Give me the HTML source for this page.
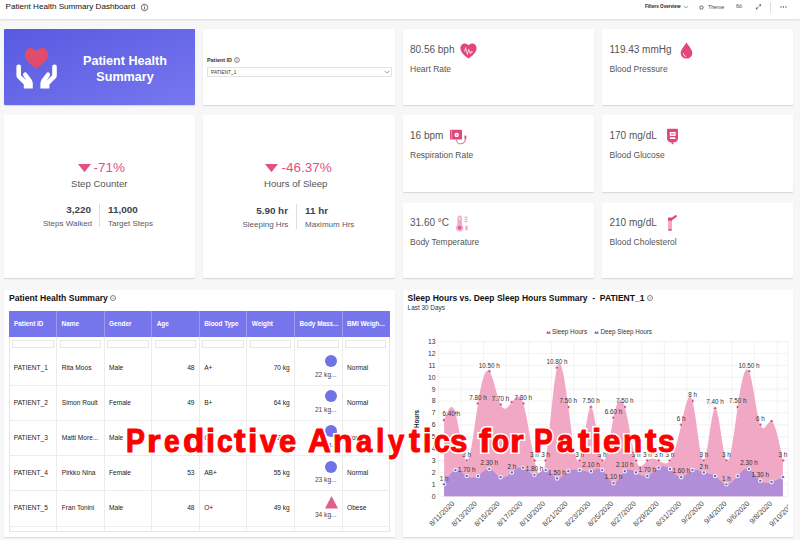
<!DOCTYPE html>
<html><head><meta charset="utf-8">
<style>
*{margin:0;padding:0;box-sizing:border-box}
html,body{width:800px;height:540px;overflow:hidden}
body{background:#f7f7f7;font-family:"Liberation Sans",sans-serif;position:relative;color:#333}
.abs{position:absolute;white-space:nowrap}
.hdr{position:absolute;left:0;top:0;width:800px;height:19px;background:#fff;box-shadow:0 1px 2px rgba(0,0,0,.12)}
.card{position:absolute;background:#fff;border-radius:1px;box-shadow:0 1px 1.2px rgba(0,0,0,.14)}
.val{position:absolute;font-size:10px;color:#555;white-space:nowrap;line-height:1}
.lbl{position:absolute;font-size:8.5px;color:#555;white-space:nowrap;line-height:1}
.t{position:absolute;white-space:nowrap;line-height:1}
svg text{font-family:"Liberation Sans",sans-serif}
.yl{font-size:6.8px;fill:#333}
.dl{font-size:6.3px;fill:#333}
.xl{font-size:7.3px;fill:#444}
.yt{font-size:6.3px;font-weight:bold;fill:#222}
.th{position:absolute;top:311px;height:26px;color:#fff;font-weight:bold;font-size:6.4px;line-height:26px;padding-left:5px;white-space:nowrap}
.td{position:absolute;font-size:6.6px;color:#222;white-space:nowrap;line-height:1}
.ov{position:absolute;top:419.6px;transform-origin:0 32.2px;font-family:"Liberation Sans",sans-serif;font-weight:bold;font-size:38px;color:#fd0000;-webkit-text-stroke:1.2px #fd0000;white-space:nowrap;line-height:1}
.ov.bg{color:#fff;-webkit-text-stroke:4.8px #fff}
</style></head><body>
<!-- header -->
<div class="hdr"></div>
<div class="t" style="left:5.6px;top:3px;font-size:8.1px;color:#111">Patient Health Summary Dashboard</div>
<svg class="abs" style="left:140px;top:3px" width="9" height="9" viewBox="0 0 9 9"><circle cx="4.5" cy="4.5" r="3.2" fill="none" stroke="#444" stroke-width="0.8"/><rect x="4.1" y="3.8" width="0.8" height="2.6" fill="#444"/><rect x="4.1" y="2.5" width="0.8" height="0.8" fill="#444"/></svg>
<div class="t" style="left:645px;top:5.2px;font-size:4.6px;font-weight:bold;color:#222">Filters Overview</div>
<svg class="abs" style="left:683px;top:5px" width="6" height="4" viewBox="0 0 6 4"><path d="M0.8 1 L3 3 L5.2 1" fill="none" stroke="#666" stroke-width="0.6"/></svg>
<svg class="abs" style="left:699px;top:4.5px" width="5" height="5" viewBox="0 0 10 10"><circle cx="5" cy="5" r="3" fill="none" stroke="#555" stroke-width="1.4"/><circle cx="5" cy="5" r="4.3" fill="none" stroke="#555" stroke-width="1.2" stroke-dasharray="1.5 1.9"/></svg>
<div class="t" style="left:708px;top:4.5px;font-size:5.2px;color:#444">Theme</div>
<div class="t" style="left:736px;top:4.3px;font-size:5.4px;color:#444">6ô</div>
<svg class="abs" style="left:755px;top:4px" width="7" height="6" viewBox="0 0 7 6"><path d="M1.2 4.8 L5.8 0.8" stroke="#555" stroke-width="0.6"/><path d="M3.8 0.6 H6 V2.6 Z M0.9 3 V5.2 H3.1 Z" fill="#555"/></svg>
<div class="abs" style="left:770px;top:2px;width:0.7px;height:11px;background:#ddd"></div>
<svg class="abs" style="left:779.5px;top:6px" width="7" height="2" viewBox="0 0 7 2"><circle cx="1" cy="1" r="0.65" fill="#444"/><circle cx="3.5" cy="1" r="0.65" fill="#444"/><circle cx="6" cy="1" r="0.65" fill="#444"/></svg>

<!-- row 1 -->
<div class="card" style="left:4px;top:29px;width:191px;height:76px;background:linear-gradient(to bottom right,#575ae0,#7877f0)"></div>
<svg class="abs" style="left:14px;top:46px" width="45" height="44" viewBox="0 0 45 44">
 <path d="M22.5 22.6 C18.5 19.6 11 15.2 11 8.4 C11 4.6 13.6 2 16.8 2 C19.4 2 21.3 3.4 22.5 5.2 C23.7 3.4 25.6 2 28.2 2 C31.4 2 34 4.6 34 8.4 C34 15.2 26.5 19.6 22.5 22.6 Z" fill="#e24c6c"/>
 <path d="M2.4 20.6 Q2.4 18.6 4.7 18.6 Q7 18.6 7 20.6 L7 29.2 L12.4 34.4 L9.3 29.8 Q8.5 28 9.9 26.8 Q11.5 25.7 12.8 27.2 L17.4 33.2 Q18.8 35.2 18.8 37.6 L18.8 42.4 L9.8 42.4 L9.8 38.6 L3.5 32.2 Q2.4 31 2.4 29.2 Z" fill="#fff"/>
 <g transform="translate(45.2 0) scale(-1 1)"><path d="M2.4 20.6 Q2.4 18.6 4.7 18.6 Q7 18.6 7 20.6 L7 29.2 L12.4 34.4 L9.3 29.8 Q8.5 28 9.9 26.8 Q11.5 25.7 12.8 27.2 L17.4 33.2 Q18.8 35.2 18.8 37.6 L18.8 42.4 L9.8 42.4 L9.8 38.6 L3.5 32.2 Q2.4 31 2.4 29.2 Z" fill="#fff"/></g>
</svg>
<div class="t" style="left:80px;top:52.6px;width:90px;text-align:center;font-size:12.6px;font-weight:bold;color:#fff;line-height:16.1px;white-space:normal">Patient Health<br>Summary</div>

<div class="card" style="left:203px;top:29px;width:192px;height:76px"></div>
<div class="t" style="left:207px;top:58.1px;font-size:5.4px;font-weight:bold;color:#333">Patient ID</div>
<svg class="abs" style="left:233.5px;top:56.7px" width="6" height="6" viewBox="0 0 6 6"><circle cx="3" cy="3" r="2.4" fill="none" stroke="#444" stroke-width="0.6"/><rect x="2.7" y="2.5" width="0.6" height="1.9" fill="#444"/><rect x="2.7" y="1.5" width="0.6" height="0.6" fill="#444"/></svg>
<div class="abs" style="left:206.5px;top:67.3px;width:185px;height:9.4px;border:0.7px solid #e3e3e3;background:#fff"></div>
<div class="t" style="left:211px;top:70.6px;font-size:4.9px;color:#333">PATIENT_1</div>
<svg class="abs" style="left:383.5px;top:70px" width="6" height="4" viewBox="0 0 6 4"><path d="M0.5 0.7 L3 3.2 L5.5 0.7" fill="none" stroke="#777" stroke-width="0.7"/></svg>

<div class="card" style="left:403px;top:29px;width:191px;height:76px"></div>
<div class="val" style="left:410px;top:45.1px">80.56 bph</div>
<svg class="abs" style="left:460px;top:42.5px" width="17" height="16" viewBox="0 0 17 16"><path d="M8.5 15.6 C6 13.6 0.4 10 0.4 5.2 C0.4 2.4 2.5 0.4 5 0.4 C6.6 0.4 7.8 1.2 8.5 2.3 C9.2 1.2 10.4 0.4 12 0.4 C14.5 0.4 16.6 2.4 16.6 5.2 C16.6 10 11 13.6 8.5 15.6 Z" fill="#e0487b"/><path d="M4.6 8.6 L5.6 4.8 L7.4 11.4 L8.8 6.4 L10.4 10.6 L11.6 8.4 L12.6 9.4" fill="none" stroke="#f6c3d5" stroke-width="1.1" stroke-linejoin="round"/></svg>
<div class="lbl" style="left:410px;top:64.5px">Heart Rate</div>

<div class="card" style="left:602px;top:29px;width:191px;height:76px"></div>
<div class="val" style="left:609.5px;top:45.1px">119.43 mmHg</div>
<svg class="abs" style="left:680px;top:41.5px" width="13" height="17" viewBox="0 0 13 17"><path d="M6.5 0.5 C8.5 3.6 12.3 7.6 12.3 11 C12.3 14.2 9.7 16.6 6.5 16.6 C3.3 16.6 0.7 14.2 0.7 11 C0.7 7.6 4.5 3.6 6.5 0.5 Z" fill="#e0487b"/><path d="M3.3 11.2 C3.3 13 4.5 14.2 6 14.4" fill="none" stroke="#fff" stroke-width="0.9"/></svg>
<div class="lbl" style="left:609.5px;top:64.5px">Blood Pressure</div>

<!-- row 2 -->
<div class="card" style="left:4px;top:115px;width:191px;height:163px"></div>
<svg class="abs" style="left:77.6px;top:163.7px" width="13" height="8.2" viewBox="0 0 13 8.2"><path d="M0 0 H13 L6.5 8.2 Z" fill="#e5507f"/></svg>
<div class="t" style="left:93.5px;top:161px;font-size:13.5px;color:#e5507f">-71%</div>
<div class="t" style="left:71px;top:178.7px;font-size:9.6px;color:#555">Step Counter</div>
<div class="t" style="left:66px;top:205px;font-size:9.9px;font-weight:bold;color:#3d4350;width:25px;text-align:right">3,220</div>
<div class="abs" style="left:99.2px;top:204px;width:0.7px;height:23px;background:#ddd"></div>
<div class="t" style="left:108px;top:205px;font-size:9.9px;font-weight:bold;color:#3d4350">11,000</div>
<div class="t" style="left:43px;top:219.5px;font-size:8px;color:#555d66">Steps Walked</div>
<div class="t" style="left:108px;top:219.5px;font-size:8px;color:#555d66">Target Steps</div>

<div class="card" style="left:203px;top:115px;width:192px;height:163px"></div>
<svg class="abs" style="left:265px;top:163.7px" width="13" height="8.2" viewBox="0 0 13 8.2"><path d="M0 0 H13 L6.5 8.2 Z" fill="#e5507f"/></svg>
<div class="t" style="left:281.5px;top:161px;font-size:13.5px;color:#e5507f">-46.37%</div>
<div class="t" style="left:264px;top:178.7px;font-size:9.6px;color:#555">Hours of Sleep</div>
<div class="t" style="left:250px;top:206px;font-size:9.9px;font-weight:bold;color:#3d4350;width:38px;text-align:right">5.90 hr</div>
<div class="abs" style="left:296px;top:204px;width:0.7px;height:25px;background:#ddd"></div>
<div class="t" style="left:305px;top:206px;font-size:9.9px;font-weight:bold;color:#3d4350">11 hr</div>
<div class="t" style="left:242.5px;top:221.2px;font-size:8px;color:#555d66">Sleeping Hrs</div>
<div class="t" style="left:305px;top:221.2px;font-size:8px;color:#555d66">Maximum Hrs</div>

<div class="card" style="left:403px;top:115px;width:191px;height:77px"></div>
<div class="val" style="left:410px;top:131.1px">16 bpm</div>
<svg class="abs" style="left:450px;top:128.5px" width="18" height="16" viewBox="0 0 18 16"><rect x="0" y="0.8" width="12" height="9.8" rx="0.6" fill="#e0487b"/><rect x="1.3" y="0.8" width="0.6" height="9.8" fill="#f4b8cd"/><circle cx="6.7" cy="5.9" r="2.2" fill="#fff"/><circle cx="6.7" cy="5.9" r="0.6" fill="#e0487b"/><path d="M6.7 10.5 C6.7 14 8.5 14.8 10.6 14.8 C13.6 14.8 15.4 13.2 15.4 9.6" fill="none" stroke="#e0487b" stroke-width="0.9"/><rect x="14.5" y="6.6" width="1.8" height="3.2" fill="#e0487b"/></svg>
<div class="lbl" style="left:410px;top:150.5px">Respiration Rate</div>

<div class="card" style="left:602px;top:115px;width:191px;height:77px"></div>
<div class="val" style="left:609.5px;top:131.1px">170 mg/dL</div>
<svg class="abs" style="left:666px;top:128px" width="13" height="17" viewBox="0 0 13 17"><path d="M1 1.6 Q1 0.7 2 0.7 H11 Q12 0.7 12 1.6 V10 Q12 13.5 8.5 14.5 H4.5 Q1 13.5 1 10 Z" fill="#e0487b"/><rect x="3.8" y="4" width="5.8" height="3.9" rx="0.5" fill="#fff"/><rect x="5" y="5.4" width="3.4" height="1" fill="#e0487b"/><rect x="3.8" y="9.2" width="5.8" height="1.8" rx="0.9" fill="#fff"/><rect x="5.6" y="14.4" width="1.8" height="1.8" fill="#e0487b"/></svg>
<div class="lbl" style="left:609.5px;top:150.5px">Blood Glucose</div>

<div class="card" style="left:403px;top:203px;width:191px;height:75px"></div>
<div class="val" style="left:410px;top:218.1px">31.60 °C</div>
<svg class="abs" style="left:455px;top:213.5px" width="14" height="19" viewBox="0 0 14 19"><rect x="2.4" y="1.4" width="4.5" height="11.5" rx="2.25" fill="#f0aac6"/><circle cx="4.65" cy="13.8" r="3.6" fill="#f0aac6"/><circle cx="4.65" cy="13.8" r="1.7" fill="#d6598c"/><rect x="3.9" y="3" width="1.5" height="3" rx="0.7" fill="#fbe3ec"/><rect x="9.5" y="2.6" width="3" height="1.3" fill="#f0aac6"/><rect x="9.5" y="4.8" width="3" height="1.3" fill="#f0aac6"/><rect x="9.5" y="7" width="3" height="1.3" fill="#f0aac6"/><rect x="10.4" y="11.6" width="2.2" height="5" rx="1.1" fill="#f0aac6"/></svg>
<div class="lbl" style="left:410px;top:237.5px">Body Temperature</div>

<div class="card" style="left:602px;top:203px;width:191px;height:75px"></div>
<div class="val" style="left:609.5px;top:218.1px">210 mg/dL</div>
<svg class="abs" style="left:666px;top:214px" width="13" height="18" viewBox="0 0 13 18"><rect x="2" y="3.6" width="4" height="13.2" rx="1.6" fill="#f2a9c4"/><rect x="2" y="3.6" width="4" height="3" fill="#e0487b"/><path d="M4.5 6 L10.5 1.6" stroke="#e0487b" stroke-width="2.2"/><rect x="2.6" y="15.2" width="2.8" height="1.4" fill="#d2406f"/></svg>
<div class="lbl" style="left:609.5px;top:237.5px">Blood Cholesterol</div>

<!-- table panel -->
<div class="card" style="left:4px;top:290px;width:391px;height:247px"></div>
<div class="t" style="left:9px;top:294.3px;font-size:8.6px;font-weight:bold;color:#111">Patient Health Summary</div>
<svg class="abs" style="left:110px;top:295.2px" width="6" height="6" viewBox="0 0 6 6"><circle cx="3" cy="3" r="2.5" fill="none" stroke="#666" stroke-width="0.8"/><path d="M1.8 3 H4.2" stroke="#888" stroke-width="0.6"/></svg>
<div class="abs" style="left:9px;top:311px;width:380.5px;height:221px;border:0.7px solid #e6e6e6;border-top:none"></div>
<div class="abs" style="left:9px;top:311px;width:380.5px;height:26px;background:#7675eb"></div>
<div class="th" style="left:9.00px">Patient ID</div>
<div class="abs" style="left:12.00px;top:340px;width:41.5px;height:8.4px;border:0.7px solid #e6e6e6"></div>
<div class="th" style="left:56.56px">Name</div>
<div class="abs" style="left:56.21px;top:311px;width:0.7px;height:26px;background:rgba(255,255,255,.28)"></div>
<div class="abs" style="left:56.21px;top:337px;width:0.7px;height:195px;background:#ececec"></div>
<div class="abs" style="left:59.56px;top:340px;width:41.5px;height:8.4px;border:0.7px solid #e6e6e6"></div>
<div class="th" style="left:104.12px">Gender</div>
<div class="abs" style="left:103.78px;top:311px;width:0.7px;height:26px;background:rgba(255,255,255,.28)"></div>
<div class="abs" style="left:103.78px;top:337px;width:0.7px;height:195px;background:#ececec"></div>
<div class="abs" style="left:107.12px;top:340px;width:41.5px;height:8.4px;border:0.7px solid #e6e6e6"></div>
<div class="th" style="left:151.69px">Age</div>
<div class="abs" style="left:151.34px;top:311px;width:0.7px;height:26px;background:rgba(255,255,255,.28)"></div>
<div class="abs" style="left:151.34px;top:337px;width:0.7px;height:195px;background:#ececec"></div>
<div class="abs" style="left:154.69px;top:340px;width:41.5px;height:8.4px;border:0.7px solid #e6e6e6"></div>
<div class="th" style="left:199.25px">Blood Type</div>
<div class="abs" style="left:198.90px;top:311px;width:0.7px;height:26px;background:rgba(255,255,255,.28)"></div>
<div class="abs" style="left:198.90px;top:337px;width:0.7px;height:195px;background:#ececec"></div>
<div class="abs" style="left:202.25px;top:340px;width:41.5px;height:8.4px;border:0.7px solid #e6e6e6"></div>
<div class="th" style="left:246.81px">Weight</div>
<div class="abs" style="left:246.46px;top:311px;width:0.7px;height:26px;background:rgba(255,255,255,.28)"></div>
<div class="abs" style="left:246.46px;top:337px;width:0.7px;height:195px;background:#ececec"></div>
<div class="abs" style="left:249.81px;top:340px;width:41.5px;height:8.4px;border:0.7px solid #e6e6e6"></div>
<div class="th" style="left:294.38px">Body Mass...</div>
<div class="abs" style="left:294.02px;top:311px;width:0.7px;height:26px;background:rgba(255,255,255,.28)"></div>
<div class="abs" style="left:294.02px;top:337px;width:0.7px;height:195px;background:#ececec"></div>
<div class="abs" style="left:297.38px;top:340px;width:41.5px;height:8.4px;border:0.7px solid #e6e6e6"></div>
<div class="th" style="left:341.94px">BMI Weigh...</div>
<div class="abs" style="left:341.59px;top:311px;width:0.7px;height:26px;background:rgba(255,255,255,.28)"></div>
<div class="abs" style="left:341.59px;top:337px;width:0.7px;height:195px;background:#ececec"></div>
<div class="abs" style="left:344.94px;top:340px;width:41.5px;height:8.4px;border:0.7px solid #e6e6e6"></div>
<div class="abs" style="left:9px;top:385.15px;width:380.5px;height:0.7px;background:#ececec"></div>
<div class="td" style="left:13.75px;top:365.00px">PATIENT_1</div>
<div class="td" style="left:61.75px;top:365.00px">Rita Moos</div>
<div class="td" style="left:109px;top:365.00px">Male</div>
<div class="td" style="left:160px;width:34.5px;text-align:right;top:365.00px">48</div>
<div class="td" style="left:204.2px;top:365.00px">A+</div>
<div class="td" style="left:250px;width:39.8px;text-align:right;top:365.00px">70 kg</div>
<div class="abs" style="left:324.70px;top:355.20px;width:12px;height:12px;border-radius:50%;background:#7073e8"></div>
<div class="td" style="left:300px;width:36.6px;text-align:right;top:371.80px;color:#444">22 kg...</div>
<div class="td" style="left:347px;top:365.00px">Normal</div>
<div class="abs" style="left:9px;top:420.25px;width:380.5px;height:0.7px;background:#ececec"></div>
<div class="td" style="left:13.75px;top:400.10px">PATIENT_2</div>
<div class="td" style="left:61.75px;top:400.10px">Simon Roult</div>
<div class="td" style="left:109px;top:400.10px">Female</div>
<div class="td" style="left:160px;width:34.5px;text-align:right;top:400.10px">49</div>
<div class="td" style="left:204.2px;top:400.10px">B+</div>
<div class="td" style="left:250px;width:39.8px;text-align:right;top:400.10px">64 kg</div>
<div class="abs" style="left:324.70px;top:390.30px;width:12px;height:12px;border-radius:50%;background:#7073e8"></div>
<div class="td" style="left:300px;width:36.6px;text-align:right;top:406.90px;color:#444">21 kg...</div>
<div class="td" style="left:347px;top:400.10px">Normal</div>
<div class="abs" style="left:9px;top:455.35px;width:380.5px;height:0.7px;background:#ececec"></div>
<div class="td" style="left:13.75px;top:435.20px">PATIENT_3</div>
<div class="td" style="left:61.75px;top:435.20px">Matti More...</div>
<div class="td" style="left:109px;top:435.20px">Male</div>
<div class="td" style="left:160px;width:34.5px;text-align:right;top:435.20px">50</div>
<div class="td" style="left:204.2px;top:435.20px">O+</div>
<div class="td" style="left:250px;width:39.8px;text-align:right;top:435.20px">72 kg</div>
<div class="abs" style="left:324.70px;top:425.40px;width:12px;height:12px;border-radius:50%;background:#7073e8"></div>
<div class="td" style="left:300px;width:36.6px;text-align:right;top:442.00px;color:#444">24 kg...</div>
<div class="td" style="left:347px;top:435.20px">Normal</div>
<div class="abs" style="left:9px;top:490.45px;width:380.5px;height:0.7px;background:#ececec"></div>
<div class="td" style="left:13.75px;top:470.30px">PATIENT_4</div>
<div class="td" style="left:61.75px;top:470.30px">Pirkko Nina</div>
<div class="td" style="left:109px;top:470.30px">Female</div>
<div class="td" style="left:160px;width:34.5px;text-align:right;top:470.30px">53</div>
<div class="td" style="left:204.2px;top:470.30px">AB+</div>
<div class="td" style="left:250px;width:39.8px;text-align:right;top:470.30px">55 kg</div>
<div class="abs" style="left:324.70px;top:460.50px;width:12px;height:12px;border-radius:50%;background:#7073e8"></div>
<div class="td" style="left:300px;width:36.6px;text-align:right;top:477.10px;color:#444">23 kg...</div>
<div class="td" style="left:347px;top:470.30px">Normal</div>
<div class="abs" style="left:9px;top:525.55px;width:380.5px;height:0.7px;background:#ececec"></div>
<div class="td" style="left:13.75px;top:505.40px">PATIENT_5</div>
<div class="td" style="left:61.75px;top:505.40px">Fran Tonini</div>
<div class="td" style="left:109px;top:505.40px">Male</div>
<div class="td" style="left:160px;width:34.5px;text-align:right;top:505.40px">48</div>
<div class="td" style="left:204.2px;top:505.40px">O+</div>
<div class="td" style="left:250px;width:39.8px;text-align:right;top:505.40px">49 kg</div>
<svg class="abs" style="left:324.5px;top:496.00px" width="13" height="12.6" viewBox="0 0 13 12.6"><path d="M6.5 0 L13 12.6 H0 Z" fill="#e0608d"/></svg>
<div class="td" style="left:300px;width:36.6px;text-align:right;top:512.20px;color:#444">34 kg...</div>
<div class="td" style="left:347px;top:505.40px">Obese</div>

<!-- chart panel -->
<div class="card" style="left:403px;top:290px;width:390px;height:247px"></div>
<div class="t" style="left:407.6px;top:294px;font-size:8.5px;font-weight:bold;color:#111">Sleep Hours vs. Deep Sleep Hours Summary&nbsp; - &nbsp;PATIENT_1</div>
<svg class="abs" style="left:646.5px;top:295.2px" width="6" height="6" viewBox="0 0 6 6"><circle cx="3" cy="3" r="2.5" fill="none" stroke="#666" stroke-width="0.8"/><path d="M1.8 3 H4.2" stroke="#888" stroke-width="0.6"/></svg>
<div class="t" style="left:407.6px;top:305px;font-size:6.4px;color:#333">Last 30 Days</div>
<svg class="abs" style="left:545.5px;top:330px" width="5" height="4" viewBox="0 0 5 4"><path d="M0.3 3.7 L1.5 0.8 L2.5 2.5 L3.5 0.8 L4.7 3.7 Z" fill="#e0487b"/></svg>
<div class="t" style="left:552px;top:329px;font-size:6.4px;color:#333">Sleep Hours</div>
<svg class="abs" style="left:594px;top:330px" width="5" height="4" viewBox="0 0 5 4"><path d="M0.3 3.7 L1.5 0.8 L2.5 2.5 L3.5 0.8 L4.7 3.7 Z" fill="#6a6ee8"/></svg>
<div class="t" style="left:600.5px;top:329px;font-size:6.3px;color:#333">Deep Sleep Hours</div>
<svg class="abs" style="left:0;top:0" width="800" height="540" viewBox="0 0 800 540">
<line x1="438.5" y1="496.25" x2="788.0" y2="496.25" stroke="#eeeeee" stroke-width="0.75"/>
<text x="435.5" y="498.65" text-anchor="end" class="yl">0</text>
<line x1="438.5" y1="484.35" x2="788.0" y2="484.35" stroke="#eeeeee" stroke-width="0.75"/>
<text x="435.5" y="486.75" text-anchor="end" class="yl">1</text>
<line x1="438.5" y1="472.45" x2="788.0" y2="472.45" stroke="#eeeeee" stroke-width="0.75"/>
<text x="435.5" y="474.85" text-anchor="end" class="yl">2</text>
<line x1="438.5" y1="460.55" x2="788.0" y2="460.55" stroke="#eeeeee" stroke-width="0.75"/>
<text x="435.5" y="462.95" text-anchor="end" class="yl">3</text>
<line x1="438.5" y1="448.65" x2="788.0" y2="448.65" stroke="#eeeeee" stroke-width="0.75"/>
<text x="435.5" y="451.05" text-anchor="end" class="yl">4</text>
<line x1="438.5" y1="436.75" x2="788.0" y2="436.75" stroke="#eeeeee" stroke-width="0.75"/>
<text x="435.5" y="439.15" text-anchor="end" class="yl">5</text>
<line x1="438.5" y1="424.85" x2="788.0" y2="424.85" stroke="#eeeeee" stroke-width="0.75"/>
<text x="435.5" y="427.25" text-anchor="end" class="yl">6</text>
<line x1="438.5" y1="412.95" x2="788.0" y2="412.95" stroke="#eeeeee" stroke-width="0.75"/>
<text x="435.5" y="415.35" text-anchor="end" class="yl">7</text>
<line x1="438.5" y1="401.05" x2="788.0" y2="401.05" stroke="#eeeeee" stroke-width="0.75"/>
<text x="435.5" y="403.45" text-anchor="end" class="yl">8</text>
<line x1="438.5" y1="389.15" x2="788.0" y2="389.15" stroke="#eeeeee" stroke-width="0.75"/>
<text x="435.5" y="391.55" text-anchor="end" class="yl">9</text>
<line x1="438.5" y1="377.25" x2="788.0" y2="377.25" stroke="#eeeeee" stroke-width="0.75"/>
<text x="435.5" y="379.65" text-anchor="end" class="yl">10</text>
<line x1="438.5" y1="365.35" x2="788.0" y2="365.35" stroke="#eeeeee" stroke-width="0.75"/>
<text x="435.5" y="367.75" text-anchor="end" class="yl">11</text>
<line x1="438.5" y1="353.45" x2="788.0" y2="353.45" stroke="#eeeeee" stroke-width="0.75"/>
<text x="435.5" y="355.85" text-anchor="end" class="yl">12</text>
<line x1="438.5" y1="341.55" x2="788.0" y2="341.55" stroke="#eeeeee" stroke-width="0.75"/>
<text x="435.5" y="343.95" text-anchor="end" class="yl">13</text>
<line x1="438.50" y1="341.55" x2="438.50" y2="496.25" stroke="#eeeeee" stroke-width="0.75"/>
<line x1="461.08" y1="341.55" x2="461.08" y2="496.25" stroke="#eeeeee" stroke-width="0.75"/>
<line x1="483.66" y1="341.55" x2="483.66" y2="496.25" stroke="#eeeeee" stroke-width="0.75"/>
<line x1="506.24" y1="341.55" x2="506.24" y2="496.25" stroke="#eeeeee" stroke-width="0.75"/>
<line x1="528.82" y1="341.55" x2="528.82" y2="496.25" stroke="#eeeeee" stroke-width="0.75"/>
<line x1="551.40" y1="341.55" x2="551.40" y2="496.25" stroke="#eeeeee" stroke-width="0.75"/>
<line x1="573.98" y1="341.55" x2="573.98" y2="496.25" stroke="#eeeeee" stroke-width="0.75"/>
<line x1="596.56" y1="341.55" x2="596.56" y2="496.25" stroke="#eeeeee" stroke-width="0.75"/>
<line x1="619.14" y1="341.55" x2="619.14" y2="496.25" stroke="#eeeeee" stroke-width="0.75"/>
<line x1="641.72" y1="341.55" x2="641.72" y2="496.25" stroke="#eeeeee" stroke-width="0.75"/>
<line x1="664.30" y1="341.55" x2="664.30" y2="496.25" stroke="#eeeeee" stroke-width="0.75"/>
<line x1="686.88" y1="341.55" x2="686.88" y2="496.25" stroke="#eeeeee" stroke-width="0.75"/>
<line x1="709.46" y1="341.55" x2="709.46" y2="496.25" stroke="#eeeeee" stroke-width="0.75"/>
<line x1="732.04" y1="341.55" x2="732.04" y2="496.25" stroke="#eeeeee" stroke-width="0.75"/>
<line x1="754.62" y1="341.55" x2="754.62" y2="496.25" stroke="#eeeeee" stroke-width="0.75"/>
<line x1="777.20" y1="341.55" x2="777.20" y2="496.25" stroke="#eeeeee" stroke-width="0.75"/>
<line x1="788.00" y1="341.55" x2="788.00" y2="496.25" stroke="#eeeeee" stroke-width="0.75"/>
<path d="M444.14,420.09 C447.91,410.28 451.67,400.47 455.44,412.95 C459.20,425.43 462.96,460.19 466.72,460.55 C470.49,460.91 474.25,426.87 478.01,403.43 C481.78,379.99 485.54,367.14 489.30,371.30 C493.07,375.46 496.83,396.63 500.59,404.62 C504.36,412.61 508.12,407.42 511.88,402.24 C515.65,397.06 519.41,391.90 523.17,403.43 C526.94,414.96 530.70,443.18 534.46,460.55 C538.23,477.92 541.99,484.46 545.75,460.55 C549.52,436.64 553.28,382.30 557.04,367.73 C560.81,353.16 564.57,378.36 568.34,407.00 C572.10,435.64 575.86,467.70 579.62,460.55 C583.39,453.40 587.15,407.03 590.91,407.00 C594.68,406.97 598.44,453.28 602.20,460.55 C605.97,467.82 609.73,436.05 613.50,417.71 C617.26,399.37 621.02,394.48 624.78,407.00 C628.55,419.52 632.31,449.47 636.07,460.55 C639.84,471.63 643.60,463.85 647.37,460.55 C651.13,457.25 654.89,458.42 658.65,460.55 C662.42,462.68 666.18,465.77 669.94,460.55 C673.71,455.33 677.47,441.79 681.23,424.85 C685.00,407.91 688.76,387.58 692.52,401.05 C696.29,414.52 700.05,461.80 703.81,460.55 C707.58,459.30 711.34,409.52 715.11,408.19 C718.87,406.86 722.63,454.00 726.39,460.55 C730.16,467.10 733.92,433.08 737.68,407.00 C741.45,380.92 745.21,362.80 748.97,371.30 C752.74,379.80 756.50,414.92 760.26,424.85 C764.03,434.78 767.79,419.53 771.55,421.28 C775.32,423.03 779.08,441.79 782.85,460.55 L782.85,496.25 L444.14,496.25 Z" fill="#f0a8c5"/>
<path d="M444.14,484.35 C447.91,477.72 451.67,471.09 455.44,470.07 C459.20,469.05 462.96,473.65 466.72,476.02 C470.49,478.39 474.25,478.53 478.01,476.02 C481.78,473.51 485.54,468.34 489.30,468.88 C493.07,469.42 496.83,475.68 500.59,477.21 C504.36,478.74 508.12,475.55 511.88,472.45 C515.65,469.35 519.41,466.34 523.17,467.69 C526.94,469.04 530.70,474.74 534.46,474.83 C538.23,474.92 541.99,469.39 545.75,470.07 C549.52,470.75 553.28,477.65 557.04,478.40 C560.81,479.15 564.57,473.75 568.34,471.26 C572.10,468.77 575.86,469.20 579.62,470.07 C583.39,470.94 587.15,472.26 590.91,471.26 C594.68,470.26 598.44,466.93 602.20,470.07 C605.97,473.21 609.73,482.81 613.50,483.16 C617.26,483.51 621.02,474.61 624.78,471.26 C628.55,467.91 632.31,470.12 636.07,472.45 C639.84,474.78 643.60,477.24 647.37,476.02 C651.13,474.80 654.89,469.91 658.65,467.69 C662.42,465.47 666.18,465.93 669.94,468.88 C673.71,471.83 677.47,477.28 681.23,477.21 C685.00,477.14 688.76,471.55 692.52,470.07 C696.29,468.59 700.05,471.23 703.81,472.45 C707.58,473.67 711.34,473.46 715.11,476.02 C718.87,478.58 722.63,483.90 726.39,484.35 C730.16,484.80 733.92,480.37 737.68,476.02 C741.45,471.67 745.21,467.41 748.97,468.88 C752.74,470.35 756.50,477.56 760.26,480.78 C764.03,484.00 767.79,483.23 771.55,481.97 C775.32,480.71 779.08,478.96 782.85,477.21 L782.85,496.25 L444.14,496.25 Z" fill="#b28dd8"/>
<circle cx="444.14" cy="420.09" r="1.5" fill="#cc4a7a" stroke="#f6d4e1" stroke-width="0.8"/>
<circle cx="455.44" cy="412.95" r="1.5" fill="#cc4a7a" stroke="#f6d4e1" stroke-width="0.8"/>
<circle cx="466.72" cy="460.55" r="1.5" fill="#cc4a7a" stroke="#f6d4e1" stroke-width="0.8"/>
<circle cx="478.01" cy="403.43" r="1.5" fill="#cc4a7a" stroke="#f6d4e1" stroke-width="0.8"/>
<circle cx="489.30" cy="371.30" r="1.5" fill="#cc4a7a" stroke="#f6d4e1" stroke-width="0.8"/>
<circle cx="500.59" cy="404.62" r="1.5" fill="#cc4a7a" stroke="#f6d4e1" stroke-width="0.8"/>
<circle cx="511.88" cy="402.24" r="1.5" fill="#cc4a7a" stroke="#f6d4e1" stroke-width="0.8"/>
<circle cx="523.17" cy="403.43" r="1.5" fill="#cc4a7a" stroke="#f6d4e1" stroke-width="0.8"/>
<circle cx="534.46" cy="460.55" r="1.5" fill="#cc4a7a" stroke="#f6d4e1" stroke-width="0.8"/>
<circle cx="545.75" cy="460.55" r="1.5" fill="#cc4a7a" stroke="#f6d4e1" stroke-width="0.8"/>
<circle cx="557.04" cy="367.73" r="1.5" fill="#cc4a7a" stroke="#f6d4e1" stroke-width="0.8"/>
<circle cx="568.34" cy="407.00" r="1.5" fill="#cc4a7a" stroke="#f6d4e1" stroke-width="0.8"/>
<circle cx="579.62" cy="460.55" r="1.5" fill="#cc4a7a" stroke="#f6d4e1" stroke-width="0.8"/>
<circle cx="590.91" cy="407.00" r="1.5" fill="#cc4a7a" stroke="#f6d4e1" stroke-width="0.8"/>
<circle cx="602.20" cy="460.55" r="1.5" fill="#cc4a7a" stroke="#f6d4e1" stroke-width="0.8"/>
<circle cx="613.50" cy="417.71" r="1.5" fill="#cc4a7a" stroke="#f6d4e1" stroke-width="0.8"/>
<circle cx="624.78" cy="407.00" r="1.5" fill="#cc4a7a" stroke="#f6d4e1" stroke-width="0.8"/>
<circle cx="636.07" cy="460.55" r="1.5" fill="#cc4a7a" stroke="#f6d4e1" stroke-width="0.8"/>
<circle cx="647.37" cy="460.55" r="1.5" fill="#cc4a7a" stroke="#f6d4e1" stroke-width="0.8"/>
<circle cx="658.65" cy="460.55" r="1.5" fill="#cc4a7a" stroke="#f6d4e1" stroke-width="0.8"/>
<circle cx="669.94" cy="460.55" r="1.5" fill="#cc4a7a" stroke="#f6d4e1" stroke-width="0.8"/>
<circle cx="681.23" cy="424.85" r="1.5" fill="#cc4a7a" stroke="#f6d4e1" stroke-width="0.8"/>
<circle cx="692.52" cy="401.05" r="1.5" fill="#cc4a7a" stroke="#f6d4e1" stroke-width="0.8"/>
<circle cx="703.81" cy="460.55" r="1.5" fill="#cc4a7a" stroke="#f6d4e1" stroke-width="0.8"/>
<circle cx="715.11" cy="408.19" r="1.5" fill="#cc4a7a" stroke="#f6d4e1" stroke-width="0.8"/>
<circle cx="726.39" cy="460.55" r="1.5" fill="#cc4a7a" stroke="#f6d4e1" stroke-width="0.8"/>
<circle cx="737.68" cy="407.00" r="1.5" fill="#cc4a7a" stroke="#f6d4e1" stroke-width="0.8"/>
<circle cx="748.97" cy="371.30" r="1.5" fill="#cc4a7a" stroke="#f6d4e1" stroke-width="0.8"/>
<circle cx="760.26" cy="424.85" r="1.5" fill="#cc4a7a" stroke="#f6d4e1" stroke-width="0.8"/>
<circle cx="771.55" cy="421.28" r="1.5" fill="#cc4a7a" stroke="#f6d4e1" stroke-width="0.8"/>
<circle cx="782.85" cy="460.55" r="1.5" fill="#cc4a7a" stroke="#f6d4e1" stroke-width="0.8"/>
<circle cx="444.14" cy="484.35" r="1.7" fill="#5865c2" stroke="#f0ecfd" stroke-width="1.1"/>
<circle cx="455.44" cy="470.07" r="1.7" fill="#5865c2" stroke="#f0ecfd" stroke-width="1.1"/>
<circle cx="466.72" cy="476.02" r="1.7" fill="#5865c2" stroke="#f0ecfd" stroke-width="1.1"/>
<circle cx="478.01" cy="476.02" r="1.7" fill="#5865c2" stroke="#f0ecfd" stroke-width="1.1"/>
<circle cx="489.30" cy="468.88" r="1.7" fill="#5865c2" stroke="#f0ecfd" stroke-width="1.1"/>
<circle cx="500.59" cy="477.21" r="1.7" fill="#5865c2" stroke="#f0ecfd" stroke-width="1.1"/>
<circle cx="511.88" cy="472.45" r="1.7" fill="#5865c2" stroke="#f0ecfd" stroke-width="1.1"/>
<circle cx="523.17" cy="467.69" r="1.7" fill="#5865c2" stroke="#f0ecfd" stroke-width="1.1"/>
<circle cx="534.46" cy="474.83" r="1.7" fill="#5865c2" stroke="#f0ecfd" stroke-width="1.1"/>
<circle cx="545.75" cy="470.07" r="1.7" fill="#5865c2" stroke="#f0ecfd" stroke-width="1.1"/>
<circle cx="557.04" cy="478.40" r="1.7" fill="#5865c2" stroke="#f0ecfd" stroke-width="1.1"/>
<circle cx="568.34" cy="471.26" r="1.7" fill="#5865c2" stroke="#f0ecfd" stroke-width="1.1"/>
<circle cx="579.62" cy="470.07" r="1.7" fill="#5865c2" stroke="#f0ecfd" stroke-width="1.1"/>
<circle cx="590.91" cy="471.26" r="1.7" fill="#5865c2" stroke="#f0ecfd" stroke-width="1.1"/>
<circle cx="602.20" cy="470.07" r="1.7" fill="#5865c2" stroke="#f0ecfd" stroke-width="1.1"/>
<circle cx="613.50" cy="483.16" r="1.7" fill="#5865c2" stroke="#f0ecfd" stroke-width="1.1"/>
<circle cx="624.78" cy="471.26" r="1.7" fill="#5865c2" stroke="#f0ecfd" stroke-width="1.1"/>
<circle cx="636.07" cy="472.45" r="1.7" fill="#5865c2" stroke="#f0ecfd" stroke-width="1.1"/>
<circle cx="647.37" cy="476.02" r="1.7" fill="#5865c2" stroke="#f0ecfd" stroke-width="1.1"/>
<circle cx="658.65" cy="467.69" r="1.7" fill="#5865c2" stroke="#f0ecfd" stroke-width="1.1"/>
<circle cx="669.94" cy="468.88" r="1.7" fill="#5865c2" stroke="#f0ecfd" stroke-width="1.1"/>
<circle cx="681.23" cy="477.21" r="1.7" fill="#5865c2" stroke="#f0ecfd" stroke-width="1.1"/>
<circle cx="692.52" cy="470.07" r="1.7" fill="#5865c2" stroke="#f0ecfd" stroke-width="1.1"/>
<circle cx="703.81" cy="472.45" r="1.7" fill="#5865c2" stroke="#f0ecfd" stroke-width="1.1"/>
<circle cx="715.11" cy="476.02" r="1.7" fill="#5865c2" stroke="#f0ecfd" stroke-width="1.1"/>
<circle cx="726.39" cy="484.35" r="1.7" fill="#5865c2" stroke="#f0ecfd" stroke-width="1.1"/>
<circle cx="737.68" cy="476.02" r="1.7" fill="#5865c2" stroke="#f0ecfd" stroke-width="1.1"/>
<circle cx="748.97" cy="468.88" r="1.7" fill="#5865c2" stroke="#f0ecfd" stroke-width="1.1"/>
<circle cx="760.26" cy="480.78" r="1.7" fill="#5865c2" stroke="#f0ecfd" stroke-width="1.1"/>
<circle cx="771.55" cy="481.97" r="1.7" fill="#5865c2" stroke="#f0ecfd" stroke-width="1.1"/>
<circle cx="782.85" cy="477.21" r="1.7" fill="#5865c2" stroke="#f0ecfd" stroke-width="1.1"/>
<text x="451.14" y="416.29" text-anchor="middle" class="dl">6.40 h</text>
<text x="466.72" y="456.75" text-anchor="middle" class="dl">3 h</text>
<text x="478.01" y="399.63" text-anchor="middle" class="dl">7.80 h</text>
<text x="489.30" y="367.50" text-anchor="middle" class="dl">10.50 h</text>
<text x="500.59" y="400.82" text-anchor="middle" class="dl">7.70 h</text>
<text x="523.17" y="399.63" text-anchor="middle" class="dl">7.80 h</text>
<text x="534.46" y="456.75" text-anchor="middle" class="dl">3 h</text>
<text x="545.75" y="456.75" text-anchor="middle" class="dl">3 h</text>
<text x="557.04" y="363.93" text-anchor="middle" class="dl">10.80 h</text>
<text x="568.34" y="403.20" text-anchor="middle" class="dl">7.50 h</text>
<text x="579.62" y="456.75" text-anchor="middle" class="dl">3 h</text>
<text x="590.91" y="403.20" text-anchor="middle" class="dl">7.50 h</text>
<text x="602.20" y="456.75" text-anchor="middle" class="dl">3 h</text>
<text x="613.50" y="413.91" text-anchor="middle" class="dl">6.60 h</text>
<text x="624.78" y="403.20" text-anchor="middle" class="dl">7.50 h</text>
<text x="636.07" y="456.75" text-anchor="middle" class="dl">3 h</text>
<text x="647.37" y="456.75" text-anchor="middle" class="dl">3 h</text>
<text x="658.65" y="456.75" text-anchor="middle" class="dl">3 h</text>
<text x="669.94" y="456.75" text-anchor="middle" class="dl">3 h</text>
<text x="681.23" y="421.05" text-anchor="middle" class="dl">6 h</text>
<text x="692.52" y="397.25" text-anchor="middle" class="dl">8 h</text>
<text x="703.81" y="456.75" text-anchor="middle" class="dl">3 h</text>
<text x="715.11" y="404.39" text-anchor="middle" class="dl">7.40 h</text>
<text x="726.39" y="456.75" text-anchor="middle" class="dl">3 h</text>
<text x="737.68" y="403.20" text-anchor="middle" class="dl">7.50 h</text>
<text x="748.97" y="367.50" text-anchor="middle" class="dl">10.50 h</text>
<text x="760.26" y="421.05" text-anchor="middle" class="dl">6 h</text>
<text x="782.85" y="456.75" text-anchor="middle" class="dl">3 h</text>
<text x="444.14" y="480.55" text-anchor="middle" class="dl">1 h</text>
<text x="466.72" y="472.22" text-anchor="middle" class="dl">1.70 h</text>
<text x="489.30" y="465.08" text-anchor="middle" class="dl">2.30 h</text>
<text x="511.88" y="468.65" text-anchor="middle" class="dl">2 h</text>
<text x="534.46" y="471.03" text-anchor="middle" class="dl">1.80 h</text>
<text x="557.04" y="474.60" text-anchor="middle" class="dl">1.50 h</text>
<text x="590.91" y="467.46" text-anchor="middle" class="dl">2.10 h</text>
<text x="613.50" y="479.36" text-anchor="middle" class="dl">1.10 h</text>
<text x="624.78" y="467.46" text-anchor="middle" class="dl">2.10 h</text>
<text x="647.37" y="472.22" text-anchor="middle" class="dl">1.70 h</text>
<text x="681.23" y="473.41" text-anchor="middle" class="dl">1.60 h</text>
<text x="703.81" y="468.65" text-anchor="middle" class="dl">2 h</text>
<text x="726.39" y="480.55" text-anchor="middle" class="dl">1 h</text>
<text x="748.97" y="465.08" text-anchor="middle" class="dl">2.30 h</text>
<text x="760.26" y="476.98" text-anchor="middle" class="dl">1.30 h</text>
<clipPath id="xc"><rect x="400" y="490" width="388.2" height="50"/></clipPath><g clip-path="url(#xc)">
<text x="454.75" y="504.05" text-anchor="end" class="xl" transform="rotate(-45 454.75 504.05)">8/11/2020</text>
<text x="477.44" y="504.05" text-anchor="end" class="xl" transform="rotate(-45 477.44 504.05)">8/13/2020</text>
<text x="500.14" y="504.05" text-anchor="end" class="xl" transform="rotate(-45 500.14 504.05)">8/15/2020</text>
<text x="522.85" y="504.05" text-anchor="end" class="xl" transform="rotate(-45 522.85 504.05)">8/17/2020</text>
<text x="545.54" y="504.05" text-anchor="end" class="xl" transform="rotate(-45 545.54 504.05)">8/19/2020</text>
<text x="568.25" y="504.05" text-anchor="end" class="xl" transform="rotate(-45 568.25 504.05)">8/21/2020</text>
<text x="590.95" y="504.05" text-anchor="end" class="xl" transform="rotate(-45 590.95 504.05)">8/23/2020</text>
<text x="613.64" y="504.05" text-anchor="end" class="xl" transform="rotate(-45 613.64 504.05)">8/25/2020</text>
<text x="636.35" y="504.05" text-anchor="end" class="xl" transform="rotate(-45 636.35 504.05)">8/27/2020</text>
<text x="659.05" y="504.05" text-anchor="end" class="xl" transform="rotate(-45 659.05 504.05)">8/29/2020</text>
<text x="681.75" y="504.05" text-anchor="end" class="xl" transform="rotate(-45 681.75 504.05)">8/31/2020</text>
<text x="704.45" y="504.05" text-anchor="end" class="xl" transform="rotate(-45 704.45 504.05)">9/2/2020</text>
<text x="727.15" y="504.05" text-anchor="end" class="xl" transform="rotate(-45 727.15 504.05)">9/4/2020</text>
<text x="749.84" y="504.05" text-anchor="end" class="xl" transform="rotate(-45 749.84 504.05)">9/6/2020</text>
<text x="772.54" y="504.05" text-anchor="end" class="xl" transform="rotate(-45 772.54 504.05)">9/8/2020</text>
<text x="795.25" y="504.05" text-anchor="end" class="xl" transform="rotate(-45 795.25 504.05)">9/10/2020</text>
</g>
<text x="0" y="0" text-anchor="middle" class="yt" transform="translate(419.3 419) rotate(-90)">Hours</text>
</svg>

<div class="ov bg" style="left:125.50px;transform:scale(0.748,0.88)">P</div>
<div class="ov bg" style="left:147.08px;transform:scale(0.920,0.84)">r</div>
<div class="ov bg" style="left:164.16px;transform:scale(0.740,0.84)">e</div>
<div class="ov bg" style="left:183.03px;transform:scale(0.920,0.88)">d</div>
<div class="ov bg" style="left:205.79px;transform:scale(0.857,0.88)">i</div>
<div class="ov bg" style="left:217.06px;transform:scale(0.740,0.84)">c</div>
<div class="ov bg" style="left:234.40px;transform:scale(0.912,0.88)">t</div>
<div class="ov bg" style="left:248.21px;transform:scale(0.893,0.88)">i</div>
<div class="ov bg" style="left:260.00px;transform:scale(0.795,0.84)">v</div>
<div class="ov bg" style="left:279.19px;transform:scale(0.812,0.84)">e</div>
<div class="ov bg" style="left:308.10px;transform:scale(0.833,0.88)">A</div>
<div class="ov bg" style="left:332.71px;transform:scale(0.843,0.84)">n</div>
<div class="ov bg" style="left:355.60px;transform:scale(0.768,0.84)">a</div>
<div class="ov bg" style="left:375.90px;transform:scale(0.800,0.88)">l</div>
<div class="ov bg" style="left:388.10px;transform:scale(0.768,0.84)">y</div>
<div class="ov bg" style="left:409.40px;transform:scale(0.862,0.88)">t</div>
<div class="ov bg" style="left:423.40px;transform:scale(0.800,0.88)">i</div>
<div class="ov bg" style="left:433.71px;transform:scale(0.740,0.84)">c</div>
<div class="ov bg" style="left:449.78px;transform:scale(0.824,0.84)">s</div>
<div class="ov bg" style="left:478.82px;transform:scale(0.920,0.88)">f</div>
<div class="ov bg" style="left:492.24px;transform:scale(0.740,0.84)">o</div>
<div class="ov bg" style="left:510.31px;transform:scale(0.920,0.84)">r</div>
<div class="ov bg" style="left:534.26px;transform:scale(0.740,0.88)">P</div>
<div class="ov bg" style="left:556.60px;transform:scale(0.782,0.84)">a</div>
<div class="ov bg" style="left:577.75px;transform:scale(0.896,0.88)">t</div>
<div class="ov bg" style="left:591.84px;transform:scale(0.879,0.88)">i</div>
<div class="ov bg" style="left:603.07px;transform:scale(0.825,0.84)">e</div>
<div class="ov bg" style="left:622.85px;transform:scale(0.825,0.84)">n</div>
<div class="ov bg" style="left:644.50px;transform:scale(0.900,0.88)">t</div>
<div class="ov bg" style="left:658.11px;transform:scale(0.795,0.84)">s</div>
<div class="ov" style="left:125.50px;transform:scale(0.748,0.88)">P</div>
<div class="ov" style="left:147.08px;transform:scale(0.920,0.84)">r</div>
<div class="ov" style="left:164.16px;transform:scale(0.740,0.84)">e</div>
<div class="ov" style="left:183.03px;transform:scale(0.920,0.88)">d</div>
<div class="ov" style="left:205.79px;transform:scale(0.857,0.88)">i</div>
<div class="ov" style="left:217.06px;transform:scale(0.740,0.84)">c</div>
<div class="ov" style="left:234.40px;transform:scale(0.912,0.88)">t</div>
<div class="ov" style="left:248.21px;transform:scale(0.893,0.88)">i</div>
<div class="ov" style="left:260.00px;transform:scale(0.795,0.84)">v</div>
<div class="ov" style="left:279.19px;transform:scale(0.812,0.84)">e</div>
<div class="ov" style="left:308.10px;transform:scale(0.833,0.88)">A</div>
<div class="ov" style="left:332.71px;transform:scale(0.843,0.84)">n</div>
<div class="ov" style="left:355.60px;transform:scale(0.768,0.84)">a</div>
<div class="ov" style="left:375.90px;transform:scale(0.800,0.88)">l</div>
<div class="ov" style="left:388.10px;transform:scale(0.768,0.84)">y</div>
<div class="ov" style="left:409.40px;transform:scale(0.862,0.88)">t</div>
<div class="ov" style="left:423.40px;transform:scale(0.800,0.88)">i</div>
<div class="ov" style="left:433.71px;transform:scale(0.740,0.84)">c</div>
<div class="ov" style="left:449.78px;transform:scale(0.824,0.84)">s</div>
<div class="ov" style="left:478.82px;transform:scale(0.920,0.88)">f</div>
<div class="ov" style="left:492.24px;transform:scale(0.740,0.84)">o</div>
<div class="ov" style="left:510.31px;transform:scale(0.920,0.84)">r</div>
<div class="ov" style="left:534.26px;transform:scale(0.740,0.88)">P</div>
<div class="ov" style="left:556.60px;transform:scale(0.782,0.84)">a</div>
<div class="ov" style="left:577.75px;transform:scale(0.896,0.88)">t</div>
<div class="ov" style="left:591.84px;transform:scale(0.879,0.88)">i</div>
<div class="ov" style="left:603.07px;transform:scale(0.825,0.84)">e</div>
<div class="ov" style="left:622.85px;transform:scale(0.825,0.84)">n</div>
<div class="ov" style="left:644.50px;transform:scale(0.900,0.88)">t</div>
<div class="ov" style="left:658.11px;transform:scale(0.795,0.84)">s</div>
</body></html>
